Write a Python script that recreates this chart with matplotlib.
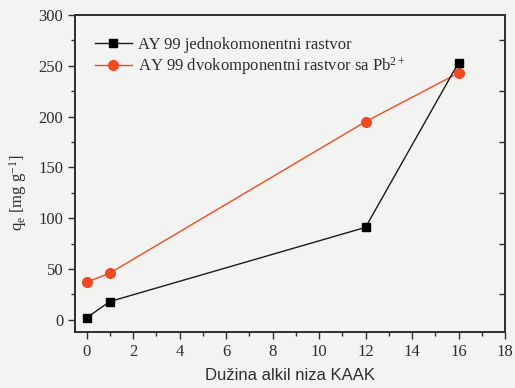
import matplotlib
matplotlib.use("Agg")
import matplotlib.pyplot as plt
from matplotlib.ticker import MultipleLocator

# Alkyl chain length of the sorbent (x) and equilibrium uptake q_e (y)
chain_length = [0, 1, 12, 16]
qe_single = [2, 18, 91, 253]
qe_binary = [37, 46, 195, 243]

label_single = "AY 99 jednokomonentni rastvor"
label_binary = "AY 99 dvokomponentni rastvor sa Pb$^{2+}$"
x_label = "Dužina alkil niza KAAK"
y_label = "q$_e$ [mg g$^{-1}$]"

x_ticks = [0, 2, 4, 6, 8, 10, 12, 14, 16, 18]
y_ticks = [0, 50, 100, 150, 200, 250, 300]

plt.rcParams["mathtext.fontset"] = "custom"
plt.rcParams["mathtext.rm"] = "Liberation Serif"
plt.rcParams["mathtext.it"] = "Liberation Serif:italic"
plt.rcParams["mathtext.default"] = "rm"

bg = "#f3f3f1"
red = "#f04a25"
ink = "#2e2e2e"
serif = ["Liberation Serif", "DejaVu Serif"]

fig = plt.figure(figsize=(5.15, 3.88), dpi=100, facecolor=bg)
ax = fig.add_axes([0.1456, 0.1443, 0.835, 0.817], facecolor=bg)

ax.plot(chain_length, qe_single, color="#1a1a1a", lw=1.0, marker="s",
        ms=6, mfc="#000000", mec="#000000", label=label_single, zorder=3)
ax.plot(chain_length, qe_binary, color=red, lw=1.0, marker="o",
        ms=7, mfc=red, mec=red, label=label_binary, zorder=2)

ax.set_xlim(-0.5, 18)
ax.set_ylim(-12, 300)
ax.set_xticks(x_ticks)
ax.set_yticks(y_ticks)
ax.xaxis.set_minor_locator(MultipleLocator(1))
ax.yaxis.set_minor_locator(MultipleLocator(25))

ax.tick_params(axis="both", which="major", direction="out", length=5,
               width=1.0, labelsize=12, color=ink, labelcolor=ink)
ax.tick_params(axis="both", which="minor", direction="out", length=3,
               width=1.0, color=ink)
for lab in ax.get_xticklabels() + ax.get_yticklabels():
    lab.set_family(serif)

# inward ticks along the right spine
ax2 = ax.twinx()
ax2.set_ylim(ax.get_ylim())
ax2.set_yticks([25, 75, 125, 175, 225, 275])
ax2.tick_params(axis="y", direction="in", length=4, width=1.0,
                labelright=False, color=ink)

for a in (ax, ax2):
    for sp in a.spines.values():
        sp.set_linewidth(1.2)
        sp.set_color(ink)

ax.set_xlabel(x_label, fontsize=12, family=["Liberation Sans", "DejaVu Sans"],
              color=ink, labelpad=6)
ax.set_ylabel(y_label, fontsize=12, family=serif, color=ink)
ax.yaxis.set_label_coords(-0.108, 0.44)

leg = ax.legend(loc="upper left", bbox_to_anchor=(0.0, 0.995), frameon=False,
                prop={"family": serif, "size": 12}, handlelength=2.2,
                handletextpad=0.4, labelspacing=0.15, borderaxespad=0.8)
for t in leg.get_texts():
    t.set_color(ink)

fig.savefig("out.png", dpi=100, facecolor=bg)
